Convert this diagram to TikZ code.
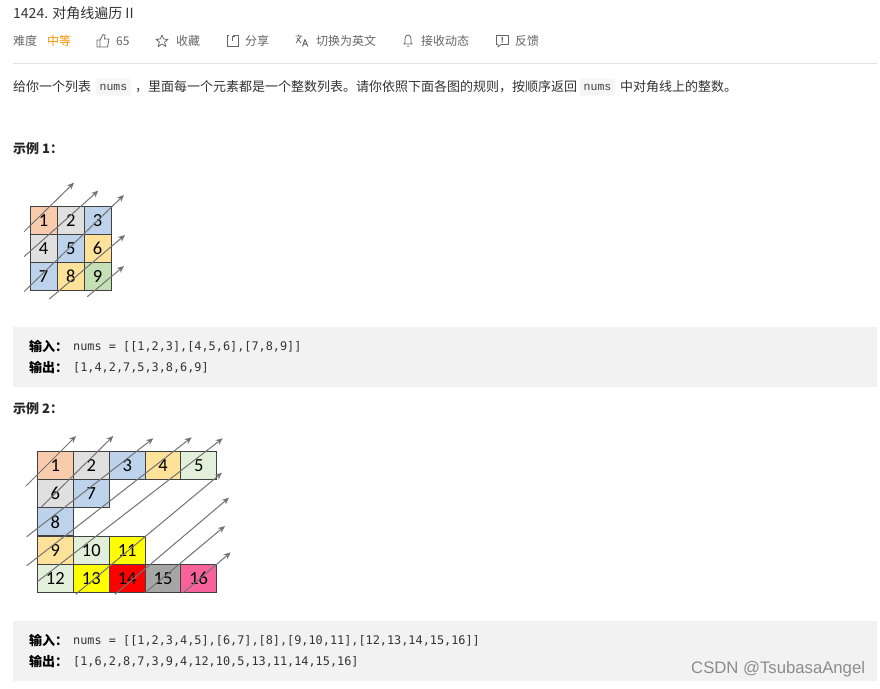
\documentclass[tikz,border=0pt]{standalone}
\usepackage{fontspec}
\usepackage{xcolor}
\usepackage{tikz}
\usetikzlibrary{arrows.meta}
\setmainfont{Noto Sans CJK SC}
\newfontfamily\cellfont{Carlito}
\newfontfamily\codefont{DejaVu Sans Mono}
\newfontfamily\chipfont{Liberation Mono}
\newfontfamily\markfont{Liberation Sans}
\newcommand{\pxfont}[1]{\fontsize{#1}{#1}\selectfont}
\definecolor{cellorange}{HTML}{F8CBAD}
\definecolor{cellgray}{HTML}{E0E0E0}
\definecolor{cellblue}{HTML}{BDD3EC}
\definecolor{cellsand}{HTML}{FFE29A}
\definecolor{cellgreen}{HTML}{C5E0B4}
\definecolor{cellmint}{HTML}{E2EFDA}
\definecolor{cellyellow}{HTML}{FFFF00}
\definecolor{cellred}{HTML}{FF0000}
\definecolor{celldark}{HTML}{A6A6A6}
\definecolor{cellpink}{HTML}{F7629A}
\definecolor{panelgray}{HTML}{F2F2F2}
\definecolor{pagetextgray}{HTML}{666666}
\tikzset{
    pagetext/.style={anchor=west, inner sep=0pt, text=black!80, font=\pxfont{13}},
    metatext/.style={pagetext, text=pagetextgray, font=\pxfont{12}},
    headtext/.style={pagetext, text=black!85, font=\pxfont{13}\bfseries},
    codetext/.style={pagetext, font=\codefont\pxfont{11.85}},
    chip/.style={fill=black!4, rounded corners=2pt, minimum width=35pt, minimum height=17pt, inner sep=0pt, text=black!75, font=\chipfont\pxfont{11.5}},
    cellbase/.style={draw=black!75, line width=1pt, inner sep=0pt, minimum height=28.3pt, text=black, font=\cellfont\pxfont{18.5}},
    cella/.style={cellbase, minimum width=27pt},
    cellb/.style={cellbase, minimum width=36pt},
    panel/.style={fill=panelgray, draw=none},
    diagarrow/.style={draw=black!55, line width=1pt, -{Stealth[length=7pt,width=6pt]}},
    iconline/.style={draw=pagetextgray, line width=0.8pt, line join=round}
}

\begin{document}
\begin{tikzpicture}[x=1pt, y=-1pt]
    \useasboundingbox[fill=white] (0,0) rectangle (880,688);

    % page header
    \node[pagetext, font=\pxfont{14}] (title) at (13,13) {1424. 对角线遍历 II};
    \foreach \name/\x/\txt in {level/13/难度, likes/116/65, star/176/收藏, share/245/分享,
        lang/316/切换为英文, notify/421/接收动态, report/515/反馈}
        \node[metatext] (\name) at (\x,41) {\txt};
    \node[metatext, text=orange!85!yellow] (medium) at (47,41) {中等};
    \draw[black!12, line width=0.8pt] (13,63.5) -- (877,63.5);

    % header icons
    \draw[iconline] (97,40) rectangle (100,47) (100,40) -- (103,34.5) -- (105,35) -- (104.5,39) -- (109,39) -- (107.5,47) -- (100,47);
    \draw[iconline] (162,35) -- (163.6,39) -- (168,39.3) -- (164.6,42) -- (165.8,46.5) -- (162,44) -- (158.2,46.5) -- (159.4,42) -- (156,39.3) -- (160.4,39) -- cycle;
    \draw[iconline] (229,35.5) -- (227,35.5) -- (227,46) -- (238,46) -- (238,35.5) -- (233,35.5) (232,41) -- (232,36.5) (232,36) -- (235,36);
    \draw[iconline] (295.5,36) -- (302,36) (298.5,34.5) -- (298.5,36) (301,36) -- (296,43) (297,38) -- (301,43);
    \draw[iconline, line width=1pt] (302.5,46.5) -- (305,39.5) -- (307.8,46.5) (303.5,44) -- (306.8,44);
    \draw[iconline] (404,44) -- (405,42.5) -- (405,38.5) .. controls (405,34) and (411,34) .. (411,38.5) -- (411,42.5) -- (412,44) -- cycle (407,46.3) -- (409,46.3);
    \draw[iconline] (496.5,35) rectangle (508,44.5);
    \fill[white] (498,44) rectangle (501,45.2);
    \draw[iconline] (498,44.5) -- (498,47) -- (501,44.5);
    \fill[pagetextgray] (501.7,36.8) rectangle (502.8,40.5) (501.7,41.3) rectangle (502.8,42.5);

    % description line
    \node[pagetext] (introa) at (13,87) {给你一个列表};
    \node[chip] (chipa) at (113.5,87) {nums};
    \node[pagetext] (introb) at (135,87) {，里面每一个元素都是一个整数列表。请你依照下面各图的规则，按顺序返回};
    \node[chip] (chipb) at (597.5,87) {nums};
    \node[pagetext] (introc) at (620,87) {中对角线上的整数。};

    % example 1
    \node[headtext] (heada) at (13,149) {示例 1：};
    \foreach \name/\x/\y/\col/\num in {
        a1/43.6/220.2/cellorange/1, a2/70.7/220.2/cellgray/2, a3/97.5/220.2/cellblue/3,
        a4/43.6/248.4/cellgray/4, a5/70.7/248.4/cellblue/5, a6/97.5/248.4/cellsand/6,
        a7/43.6/276.7/cellblue/7, a8/70.7/276.7/cellsand/8, a9/97.5/276.7/cellgreen/9}
        \node[cella, fill=\col] (\name) at (\x,\y) {\num};
    \foreach \name/\xa/\ya/\xb/\yb in {
        pa/24/231.7/74/182.7, pb/24/256.7/98.3/190.7, pc/24/291.7/124/195,
        pd/49.3/299/125/235, pe/87.3/296.7/124/266} {
        \coordinate (\name s) at (\xa,\ya);
        \coordinate (\name e) at (\xb,\yb);
        \draw[diagarrow] (\name s) -- (\name e);
    }

    \path[panel] (13,327) rectangle (877,387);
    \node[pagetext, text=black, font=\pxfont{13}\bfseries] (ina) at (29,346) {输入：};
    \node[codetext] (incodea) at (73,347) {nums = [[1,2,3],[4,5,6],[7,8,9]]};
    \node[pagetext, text=black, font=\pxfont{13}\bfseries] (outa) at (29,367) {输出：};
    \node[codetext] (outcodea) at (73,368) {[1,4,2,7,5,3,8,6,9]};

    % example 2
    \node[headtext] (headb) at (13,409) {示例 2：};
    \foreach \name/\x/\y/\col/\num in {
        b1/55.3/465.2/cellorange/1, b2/91.3/465.2/cellgray/2, b3/127.2/465.2/cellblue/3,
        b4/163/465.2/cellsand/4, b5/198.7/465.2/cellmint/5,
        b6/55.3/493.5/cellgray/6, b7/91.3/493.5/cellblue/7,
        b8/55.3/521.8/cellblue/8,
        b9/55.3/550.2/cellsand/9, b10/91.3/550.2/cellmint/10, b11/127.2/550.2/cellyellow/11,
        b12/55.3/578.5/cellmint/12, b13/91.3/578.5/cellyellow/13, b14/127.2/578.5/cellred/14,
        b15/163/578.5/celldark/15, b16/198.7/578.5/cellpink/16}
        \node[cellb, fill=\col] (\name) at (\x,\y) {\num};
    \foreach \name/\xa/\ya/\xb/\yb in {
        qa/26/486/76/436, qb/41.7/506.7/113.3/436, qc/26.7/536.7/153.3/438.3,
        qd/26.7/565.7/191.7/437.3, qe/37.3/581.7/222.7/438.3, qf/75.7/594.3/222/472.7,
        qg/115/594.3/229/497.7, qh/145/592.7/225/526, qi/183.3/592.7/230.7/552.3} {
        \coordinate (\name s) at (\xa,\ya);
        \coordinate (\name e) at (\xb,\yb);
        \draw[diagarrow] (\name s) -- (\name e);
    }

    \path[panel] (13,621) rectangle (877,681);
    \node[pagetext, text=black, font=\pxfont{13}\bfseries] (inb) at (29,640) {输入：};
    \node[codetext] (incodeb) at (73,641) {nums = [[1,2,3,4,5],[6,7],[8],[9,10,11],[12,13,14,15,16]]};
    \node[pagetext, text=black, font=\pxfont{13}\bfseries] (outb) at (29,661) {输出：};
    \node[codetext] (outcodeb) at (73,661.5) {[1,6,2,8,7,3,9,4,12,10,5,13,11,14,15,16]};

    % watermark
    \node[pagetext, text=black!45, font=\markfont\pxfont{16.7}] (mark) at (691,669) {CSDN @TsubasaAngel};
\end{tikzpicture}
\end{document}
